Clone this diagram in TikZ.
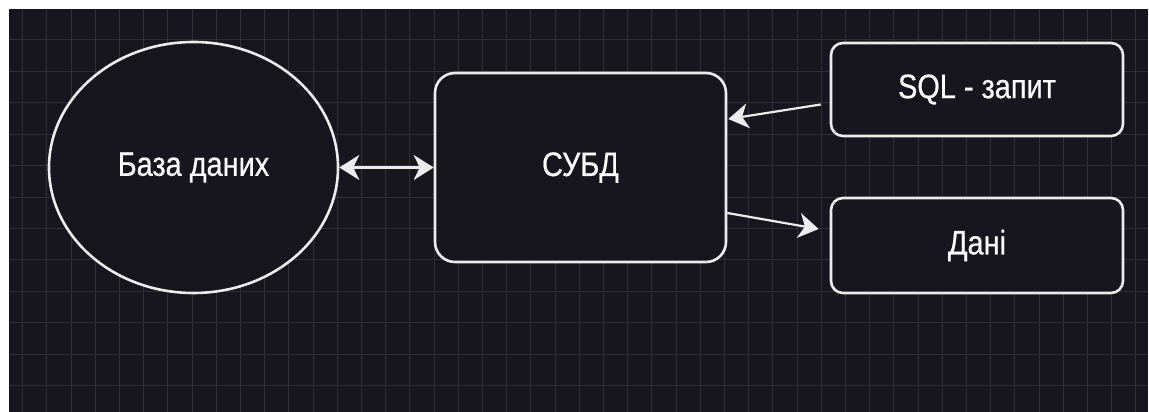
\documentclass[tikz,border=0pt]{standalone}
\usepackage{fontspec}
\setmainfont{Liberation Sans}[FakeStretch=0.85,FakeBold=0.5]
\usetikzlibrary{shapes.geometric,arrows.meta,calc}
\definecolor{canvas}{HTML}{17151D}
\definecolor{gridline}{HTML}{302E37}
\definecolor{ink}{HTML}{ECECEC}
\tikzset{
  shape line/.style={draw=ink, line width=2.6pt, fill=canvas, text=white,
    font=\fontsize{34}{34}\selectfont, inner sep=0pt},
  roundbox/.style={shape line, rectangle, rounded corners=#1},
  flow/.style={draw=ink, line width=2.2pt,
    -{Stealth[length=20pt,width=25pt,inset=6pt,fill=ink]}},
  twoway/.style={draw=ink, line width=2.2pt,
    {Stealth[length=20pt,width=25pt,inset=6pt,fill=ink]}-{Stealth[length=20pt,width=25pt,inset=6pt,fill=ink]}},
}
\begin{document}
\begin{tikzpicture}[x=1pt,y=-1pt]
\useasboundingbox (0,0) rectangle (1149,412);
% dark drawing canvas with its grid
\fill[canvas] (9,9) rectangle (1148,412);
\begin{scope}
  \clip (9,9) rectangle (1148,412);
  \foreach \i in {0,...,47} {
    \draw[gridline, line width=1pt] ({22.6+24.2*\i},9) -- ({22.6+24.2*\i},412);
  }
  \foreach \j in {0,...,12} {
    \draw[gridline, line width=1pt] (9,{40+31.4*\j}) -- (1148,{40+31.4*\j});
  }
\end{scope}

% nodes
\node[shape line, ellipse, minimum width=289pt, minimum height=251pt]
  (db) at (193.5,167.5) {База даних};
\node[roundbox=20pt, minimum width=291pt, minimum height=189pt]
  (dbms) at (580.5,167.5) {СУБД};
\node[roundbox=12pt, minimum width=292pt, minimum height=93pt]
  (sql) at (977,89.5) {SQL - запит};
\node[roundbox=12pt, minimum width=292pt, minimum height=95pt]
  (data) at (977,245.5) {Дані};

% free ends of the slanted connectors
\coordinate (sqlout) at ([shift={(-9,15)}]sql.west);
\coordinate (dbmsin) at ([shift={(1,-48.5)}]dbms.east);
\coordinate (dbmsout) at ([shift={(0,45.5)}]dbms.east);
\coordinate (datain) at ([shift={(-11,-16.5)}]data.west);

% connectors
\draw[twoway] (db.east) -- (dbms.west);
\draw[flow] (sqlout) -- (dbmsin);
\draw[flow] (dbmsout) -- (datain);
\end{tikzpicture}
\end{document}
